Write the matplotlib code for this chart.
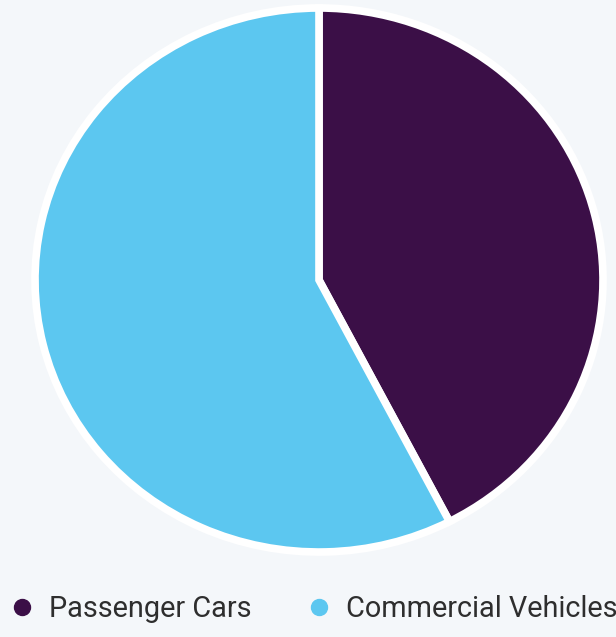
import matplotlib.pyplot as plt
from matplotlib.lines import Line2D

etiquetas = ["Passenger Cars", "Commercial Vehicles"]
valores = [42.4, 57.6]
colores = ["#3b0f47", "#5cc7f0"]

fondo = "#f4f7fa"

fig = plt.figure(figsize=(6.16, 6.37), dpi=100, facecolor=fondo)
# the pie in the reference is slightly wider than tall, so aspect is left free
ax = fig.add_axes([35 / 616, (637 - 552) / 637, 568 / 616, 544 / 637])
ax.set_facecolor(fondo)
ax.pie(valores, colors=colores, startangle=90, counterclock=False,
       wedgeprops=dict(edgecolor="white", linewidth=5.5))
ax.set_aspect("auto")
ax.set_xlim(-1, 1)
ax.set_ylim(-1, 1)
ax.axis("off")

marcas = [Line2D([0], [0], marker="o", linestyle="", markersize=11.5,
                 markerfacecolor=c, markeredgecolor=c) for c in colores]
fig.legend(marcas, etiquetas, loc="center left", bbox_to_anchor=(0.0, (637 - 609) / 637),
           ncol=2, frameon=False, handletextpad=0.2, columnspacing=1.6,
           handlelength=1.49, borderaxespad=0, borderpad=0,
           prop=dict(family="Roboto", size=20.8), labelcolor="#2e2e2e")

fig.savefig("out.png", dpi=100, facecolor=fondo)
